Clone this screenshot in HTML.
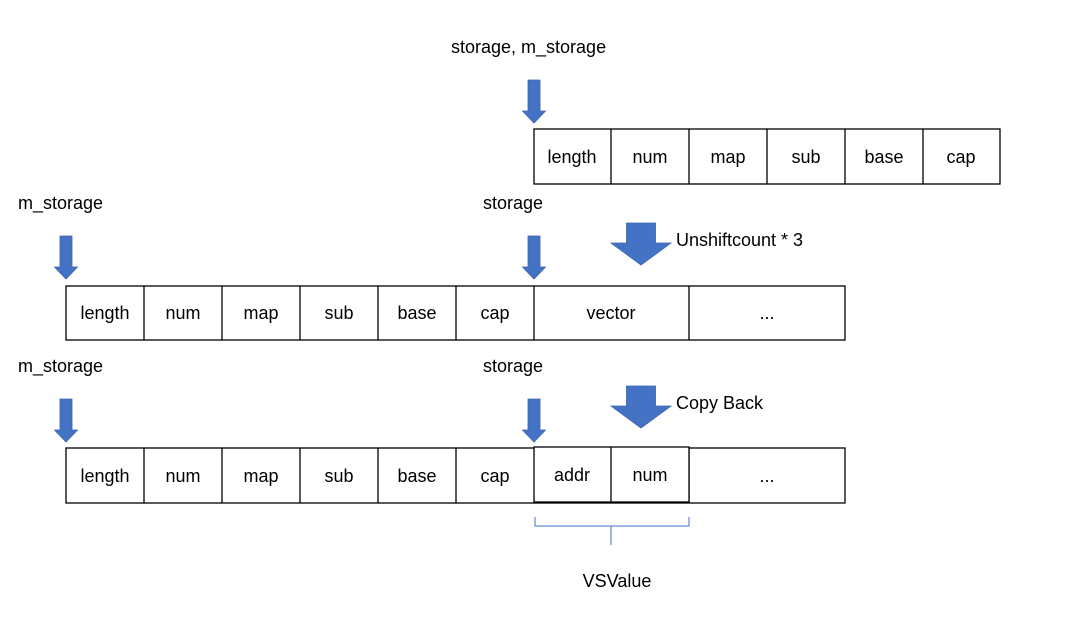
<!DOCTYPE html>
<html><head><meta charset="utf-8"><style>
html,body{margin:0;padding:0;background:#fff;}
svg{display:block;}
text{font-family:"Liberation Sans",sans-serif;font-size:18px;fill:#000;}
</style></head><body>
<svg width="1073" height="617" viewBox="0 0 1073 617" xmlns="http://www.w3.org/2000/svg">
<defs>
<path id="sa" d="M-6,0 H6 V31 H11.5 L0,43 L-11.5,31 H-6 Z" fill="#4472C4" stroke="#3A65B0" stroke-width="0.8"/>
<path id="ba" d="M-14.5,0 H14.5 V20 H30 L0,42 L-30,20 H-14.5 Z" fill="#4472C4" stroke="#3A65B0" stroke-width="0.8"/>
</defs>
<g fill="none" stroke="#000" stroke-width="1.3">
<rect x="534" y="129" width="466" height="55"/>
<path d="M611 129V184M689 129V184M767 129V184M845 129V184M923 129V184"/>
<rect x="66" y="286" width="779" height="54"/>
<path d="M144 286V340M222 286V340M300 286V340M378 286V340M456 286V340M534 286V340M689 286V340"/>
<rect x="66" y="448" width="779" height="55"/>
<path d="M144 448V503M222 448V503M300 448V503M378 448V503M456 448V503M689 448V503"/>
<rect x="534" y="447" width="155" height="55" fill="#fff"/>
<path d="M611 447V502"/>
</g>
<path d="M535 517 V526 H611 V545 M611 526 H689 V517" fill="none" stroke="#4472C4" stroke-width="1"/>
<use href="#sa" x="534" y="80"/>
<use href="#sa" x="66" y="236"/>
<use href="#sa" x="534" y="236"/>
<use href="#sa" x="66" y="399"/>
<use href="#sa" x="534" y="399"/>
<use href="#ba" x="641" y="223"/>
<use href="#ba" x="641" y="386"/>
<text x="451" y="53">storage, m_storage</text>
<text x="18" y="209">m_storage</text>
<text x="483" y="209">storage</text>
<text x="18" y="372">m_storage</text>
<text x="483" y="372">storage</text>
<text x="676" y="246">Unshiftcount * 3</text>
<text x="676" y="409">Copy Back</text>
<text x="617" y="587" text-anchor="middle">VSValue</text>
<g text-anchor="middle">
<text x="572" y="163">length</text><text x="650" y="163">num</text><text x="728" y="163">map</text><text x="806" y="163">sub</text><text x="884" y="163">base</text><text x="961" y="163">cap</text>
<text x="105" y="319">length</text><text x="183" y="319">num</text><text x="261" y="319">map</text><text x="339" y="319">sub</text><text x="417" y="319">base</text><text x="495" y="319">cap</text><text x="611" y="319">vector</text><text x="767" y="319">...</text>
<text x="105" y="482">length</text><text x="183" y="482">num</text><text x="261" y="482">map</text><text x="339" y="482">sub</text><text x="417" y="482">base</text><text x="495" y="482">cap</text><text x="572" y="481">addr</text><text x="650" y="481">num</text><text x="767" y="482">...</text>
</g>
</svg>
</body></html>
